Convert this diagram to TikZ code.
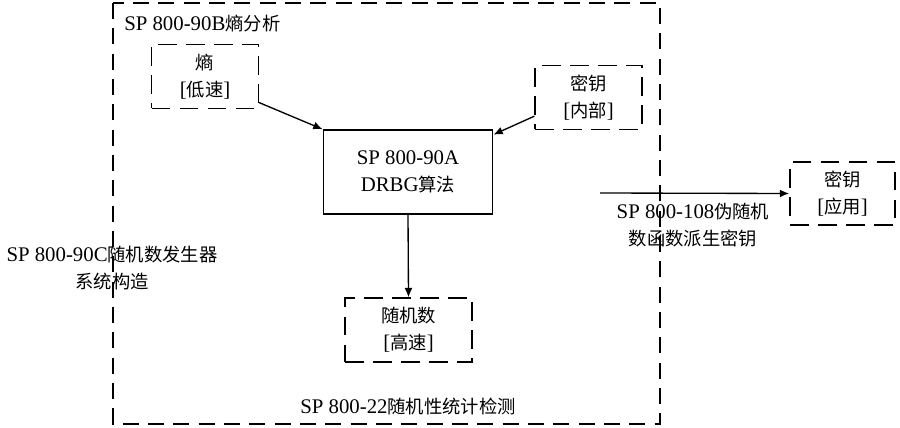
\documentclass[tikz,border=0pt]{standalone}
\usepackage{fontspec}
\setmainfont{Liberation Serif}
\newfontfamily\cjk{Noto Sans CJK SC}[Scale=0.88]
\usetikzlibrary{arrows.meta}

\tikzset{
  dashbox/.style={draw,line width=1.1pt,dash pattern=on 14pt off 7pt,
    inner sep=0pt,align=center,minimum width=80pt,minimum height=48pt},
  algbox/.style={draw,line width=1.1pt,inner sep=0pt,align=center,
    minimum width=127pt,minimum height=63pt},
  lbl/.style={inner sep=0pt,align=center},
  flow/.style={-{Latex[length=7pt,width=6pt]},line width=1pt}
}

\begin{document}
\begin{tikzpicture}[x=0.75pt,y=-0.75pt,font=\fontsize{15.6}{20}\selectfont]
  \useasboundingbox (0,0) rectangle (900,428);

  % outer frame
  \draw[line width=1.1pt,dash pattern=on 12pt off 7pt] (113,3) rectangle (660,424);

  % boxes
  \node[dashbox] (entropy) at (205,76.5) {{\cjk 熵}\\{}[{\cjk 低速}]};
  \node[dashbox] (keyin) at (588.5,97.5) {{\cjk 密钥}\\{}[{\cjk 内部}]};
  \node[algbox] (drbg) at (408,172) {SP 800-90A\\DRBG{\cjk 算法}};
  \node[dashbox,minimum width=95pt] (rnd) at (408.5,330) {{\cjk 随机数}\\{}[{\cjk 高速}]};
  \node[dashbox,minimum width=79pt,minimum height=47pt] (keyout) at (842.5,193.5) {{\cjk 密钥}\\{}[{\cjk 应用}]};

  % labels
  \node[lbl,anchor=west] (lbB) at (124,24) {SP 800-90B{\cjk 熵分析}};
  \node[lbl] (lbC) at (112,268) {SP 800-90C{\cjk 随机数发生器}\\{\cjk 系统构造}};
  \node[lbl] (lb22) at (408,406) {SP 800-22{\cjk 随机性统计检测}};
  \node[lbl] (lb108) at (693,225) {SP 800-108{\cjk 伪随机}\\{\cjk 数函数派生密钥}};

  % arrows
  \coordinate (kdf) at (600,193);
  \draw[flow] ([yshift=5pt]entropy.south east) -- (drbg.north west);
  \draw[flow] ([yshift=-14pt]keyin.west) -- ([yshift=-4pt]drbg.north east);
  \draw[flow] (drbg.south) -- (rnd.north);
  \draw[flow] (kdf) -- (keyout.west);
\end{tikzpicture}
\end{document}
